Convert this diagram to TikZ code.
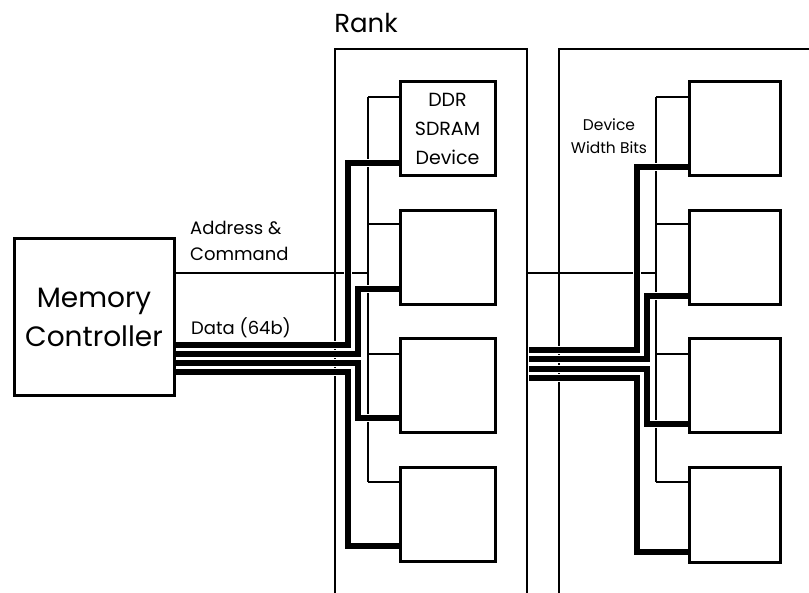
\documentclass[tikz,border=0pt]{standalone}
\usepackage{fontspec}
\setmainfont{Poppins}
\begin{document}
\begin{tikzpicture}[x=1pt,y=-1pt,
  thinline/.style={line width=2.4pt},
  rankline/.style={line width=2.6pt},
  bus/.style={line width=5.6pt, preaction={draw=white, line width=8.6pt}},
  device/.style={draw, line width=3pt, fill=white, minimum height=94pt, inner sep=0pt},
  ldev/.style={device, minimum width=95pt},
  rdev/.style={device, minimum width=91pt},
  lbl/.style={font=\fontsize{18}{26}\selectfont, align=left, anchor=west, inner sep=0pt}
]
\useasboundingbox (0,0) rectangle (809,593);
% rank outlines
\draw[rankline] (335,593) -- (335,49) -- (527,49) -- (527,593);
\draw[rankline] (559,593) -- (559,49) -- (809,49);
\node[font=\fontsize{26}{28}\selectfont] (rank) at (366,23) {Rank};

% memory controller
\node[draw, line width=3pt, minimum width=160pt, minimum height=157pt, inner sep=0pt,
      align=center, font=\fontsize{28}{39}\selectfont] (mc) at (94,317.5) {Memory\\Controller};

% devices (positions)
\path (447.5,129) coordinate (pL1) (447.5,258) coordinate (pL2) (447.5,386) coordinate (pL3) (447.5,514.5) coordinate (pL4);
\path (734.5,128.5) coordinate (pR1) (734.5,258) coordinate (pR2) (734.5,385.5) coordinate (pR3) (734.5,515) coordinate (pR4);

% address / command thin lines
\coordinate (lbus) at (368,0);
\coordinate (rbus) at (656,0);
\draw[thinline] (mc.east |- 0,273) -- (lbus |- 0,273);
\draw[thinline] (lbus |- 0,97) -- (lbus |- 0,482);
\draw[thinline] (527,273) -- (rbus |- 0,273);
\draw[thinline] (rbus |- 0,97) -- (rbus |- 0,482);
\foreach \y in {97,224,354,482}{
  \draw[thinline] (368,\y) -- (400,\y);
  \draw[thinline] (656,\y) -- (689,\y);
}

% data buses, left rank
\draw[bus] (mc.east |- 0,345) -- (348,345) -- (348,163) -- (400,163);
\draw[bus] (mc.east |- 0,354) -- (358,354) -- (358,289) -- (400,289);
\draw[bus] (mc.east |- 0,363) -- (358,363) -- (358,418) -- (400,418);
\draw[bus] (mc.east |- 0,372) -- (348,372) -- (348,546) -- (400,546);
% data buses, right rank
\draw[bus] (529,350) -- (637,350) -- (637,167) -- (689,167);
\draw[bus] (529,359) -- (647,359) -- (647,296) -- (689,296);
\draw[bus] (529,369) -- (647,369) -- (647,424) -- (689,424);
\draw[bus] (529,378) -- (637,378) -- (637,552) -- (689,552);

% devices
\node[ldev, align=center, font=\fontsize{19}{29}\selectfont] (L1) at (pL1) {DDR\\SDRAM\\Device};
\node[ldev] (L2) at (pL2) {};
\node[ldev] (L3) at (pL3) {};
\node[ldev] (L4) at (pL4) {};
\node[rdev] (R1) at (pR1) {};
\node[rdev] (R2) at (pR2) {};
\node[rdev] (R3) at (pR3) {};
\node[rdev] (R4) at (pR4) {};

% labels
\node[lbl] (addr) at (190,241) {Address \&\\Command};
\node[lbl] (data) at (191,328) {Data (64b)};
\node[align=center, font=\fontsize{15.5}{23}\selectfont, inner sep=0pt] (dwb) at (609,136) {Device\\Width Bits};
\end{tikzpicture}
\end{document}
